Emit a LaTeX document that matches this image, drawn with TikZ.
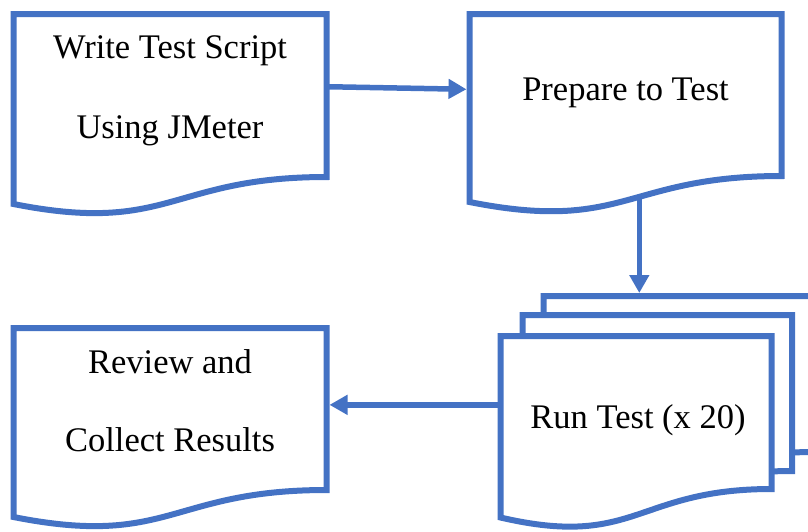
\documentclass[tikz,border=0pt]{standalone}
\usepackage{fontspec}
\setmainfont{Liberation Serif}
\usetikzlibrary{calc,arrows.meta}
\definecolor{flowblue}{RGB}{68,114,196}
\tikzset{
  docbody/.style={draw=none, inner sep=0pt, outer sep=0pt},
  docline/.style={draw=flowblue, fill=white, line width=6pt},
  conn/.style={draw=flowblue, line width=5.5pt, shorten >=3pt,
    -{Triangle[length=18pt, width=19pt]}},
  lbl/.style={inner sep=0pt, anchor=base, text=black,
    font=\fontsize{34.5}{40}\selectfont}
}
\begin{document}
\begin{tikzpicture}[x=1pt, y=-1pt]
  \useasboundingbox (0,0) rectangle (808,531);
  \clip (0,0) rectangle (808,531);

  % rectangular bodies of the document shapes (the wavy foot hangs below)
  \node[docbody, minimum width=313pt, minimum height=163pt] (write)   at (170,95.5) {};
  \node[docbody, minimum width=312pt, minimum height=162pt] (prep)    at (625.5,95) {};
  \node[docbody, minimum width=313pt, minimum height=162pt] (review)  at (170,409) {};
  \node[docbody, minimum width=270.5pt, minimum height=156pt] (runback) at (678.75,374) {};
  \node[docbody, minimum width=269.5pt, minimum height=156pt] (runmid)  at (657.25,393) {};
  \node[docbody, minimum width=271pt, minimum height=153pt] (run)     at (636,412.5) {};

  % connectors (drawn first so the filled shapes hide their tails)
  \coordinate (writeout) at ($(write.north east)!0.446!(write.south east)$);
  \coordinate (prepin)   at ($(prep.north west)!0.465!(prep.south west)$);
  \draw[conn] (writeout) -- (prepin);

  \coordinate (prepout) at ($(prep.south)+(13.8,0)$);
  \draw[conn] (prepout) -- (prepout |- runback.north);

  \coordinate (runout) at ($(run.north west)!0.45!(run.south west)$);
  \draw[conn] (runout) -- (runout -| review.east);

  % document shapes
  \draw[docline] (write.north west) -- (write.north east) -- (write.south east)
    .. controls (write.south) and ($(write.south)+(0,58)$) .. ($(write.south west)+(0,27)$) -- cycle;
  \draw[docline] (prep.north west) -- (prep.north east) -- (prep.south east)
    .. controls (prep.south) and ($(prep.south)+(0,57)$) .. ($(prep.south west)+(0,26)$) -- cycle;
  \draw[docline] (review.north west) -- (review.north east) -- (review.south east)
    .. controls (review.south) and ($(review.south)+(0,58)$) .. ($(review.south west)+(0,27)$) -- cycle;

  % stacked pages of the repeated run
  \draw[docline] (runback.north west) -- (runback.north east) -- (runback.south east)
    .. controls (runback.south) and ($(runback.south)+(0,60)$) .. ($(runback.south west)+(0,28)$) -- cycle;
  \draw[docline] (runmid.north west) -- (runmid.north east) -- (runmid.south east)
    .. controls (runmid.south) and ($(runmid.south)+(0,60)$) .. ($(runmid.south west)+(0,28)$) -- cycle;
  \draw[docline] (run.north west) -- (run.north east) -- (run.south east)
    .. controls (run.south) and ($(run.south)+(0,60)$) .. ($(run.south west)+(0,28.5)$) -- cycle;

  % labels
  \node[lbl] (writeA)  at (170,58.3)  {Write Test Script};
  \node[lbl] (writeB)  at (170,138.3) {Using JMeter};
  \node[lbl] (prepA)   at (625.5,100.7) {Prepare to Test};
  \node[lbl] (reviewA) at (170,373.3) {Review and};
  \node[lbl] (reviewB) at (170,451.7) {Collect Results};
  \node[lbl] (runA)    at (638,428.3) {Run Test (x 20)};
\end{tikzpicture}
\end{document}
